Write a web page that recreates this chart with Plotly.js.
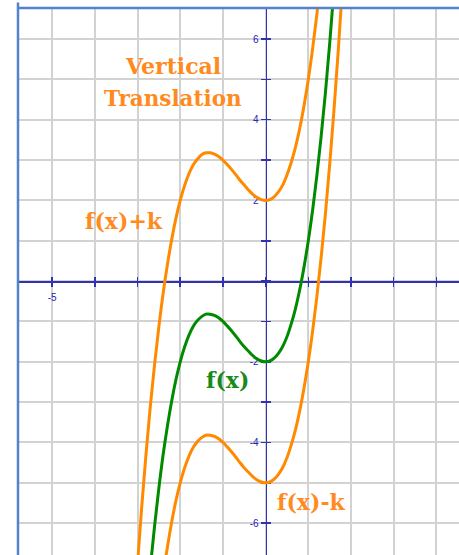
<!DOCTYPE html>
<html><head><meta charset="utf-8">
<script src="https://cdn.plot.ly/plotly-3.0.1.min.js"></script>
<style>html,body{margin:0;padding:0;background:#fff}#chart{width:459px;height:555px}</style>
</head><body><div id="chart"></div>
<script>
const xs = [-3.1,-3.0,-2.9,-2.8,-2.7,-2.6,-2.5,-2.4,-2.3,-2.2,-2.1,-2.0,-1.9,-1.8,-1.7,-1.6,-1.5,-1.4,-1.3,-1.2,-1.1,-1.0,-0.9,-0.8,-0.7,-0.6,-0.5,-0.4,-0.3,-0.2,-0.1,0,0.1,0.2,0.3,0.4,0.5,0.6,0.7,0.8,0.9,1.0,1.1,1.2,1.3,1.4,1.5,1.6,1.7,1.8,1.9];
const fx = [-12.57,-11.00,-9.57,-8.27,-7.10,-6.06,-5.13,-4.30,-3.59,-2.97,-2.44,-2.00,-1.64,-1.35,-1.13,-0.98,-0.88,-0.82,-0.82,-0.85,-0.91,-1.00,-1.11,-1.23,-1.36,-1.50,-1.63,-1.74,-1.85,-1.93,-1.98,-2.00,-1.98,-1.91,-1.79,-1.62,-1.38,-1.06,-0.68,-0.21,0.35,1.00,1.75,2.61,3.58,4.66,5.88,7.22,8.69,10.31,12.08];
const fxPlusK = [-8.57,-7.00,-5.57,-4.27,-3.10,-2.06,-1.13,-0.30,0.41,1.03,1.56,2.00,2.36,2.65,2.87,3.02,3.13,3.18,3.18,3.15,3.09,3.00,2.89,2.77,2.64,2.50,2.38,2.26,2.15,2.07,2.02,2.00,2.02,2.09,2.21,2.38,2.63,2.94,3.32,3.79,4.35,5.00,5.75,6.61,7.58,8.66,9.88,11.22,12.69,14.31,16.08];
const fxMinusK = [-15.57,-14.00,-12.57,-11.27,-10.10,-9.06,-8.13,-7.30,-6.59,-5.97,-5.44,-5.00,-4.64,-4.35,-4.13,-3.98,-3.88,-3.82,-3.82,-3.85,-3.91,-4.00,-4.11,-4.23,-4.36,-4.50,-4.63,-4.74,-4.85,-4.93,-4.98,-5.00,-4.98,-4.91,-4.79,-4.62,-4.38,-4.06,-3.68,-3.21,-2.65,-2.00,-1.25,-0.39,0.58,1.66,2.88,4.22,5.69,7.31,9.08];
const xTickVals = [-5,-4,-3,-2,-1,0,1,2,3,4];
const xTickText = ['-5','','','','','','','','',''];
const yTickVals = [-6,-5,-4,-3,-2,-1,0,1,2,3,4,5,6];
const yTickText = ['-6','','-4','','-2','','','','2','','4','','6'];

const xRange = [-5.80, 4.53];
const yRange = [-6.79, 6.77];
const orange = '#ff8a00', green = '#008a00';
const navy = '#3232b0';
const lblFont = {family:'Liberation Sans, Arial, sans-serif', size:10, color:'#2424b8'};
const xPos = (0 - yRange[0])/(yRange[1]-yRange[0]);
const yPos = (0 - xRange[0])/(xRange[1]-xRange[0]);

const traces = [
  {x:xs, y:fxPlusK, mode:'lines', line:{color:orange, width:3, shape:'spline'}, hoverinfo:'skip', showlegend:false},
  {x:xs, y:fxMinusK, mode:'lines', line:{color:orange, width:3, shape:'spline'}, hoverinfo:'skip', showlegend:false},
  {x:xs, y:fx, mode:'lines', line:{color:green, width:3, shape:'spline'}, hoverinfo:'skip', showlegend:false},
  {x:[0], y:[0], xaxis:'x2', yaxis:'y2', mode:'markers', marker:{opacity:0}, hoverinfo:'skip', showlegend:false}
];

const common = {zeroline:false, fixedrange:true, layer:'below traces'};
const layout = {
  width:459, height:555,
  margin:{l:18, r:0, t:8, b:0},
  paper_bgcolor:'#fff', plot_bgcolor:'#fff',
  xaxis:Object.assign({}, common, {range:xRange, tickmode:'array', tickvals:xTickVals, ticktext:xTickText,
    showgrid:true, gridcolor:'#d2d2d2', gridwidth:2,
    showline:true, linecolor:navy, linewidth:1.5,
    anchor:'free', position:xPos, side:'bottom',
    ticks:'outside', ticklen:4, tickwidth:1.5, tickcolor:navy, tickfont:lblFont, ticklabelstandoff:2}),
  xaxis2:Object.assign({}, common, {range:xRange, overlaying:'x', tickmode:'array', tickvals:xTickVals,
    showgrid:false, showline:false, showticklabels:false,
    anchor:'free', position:xPos, side:'bottom',
    ticks:'inside', ticklen:4, tickwidth:1.5, tickcolor:navy}),
  yaxis:Object.assign({}, common, {range:yRange, tickmode:'array', tickvals:yTickVals, ticktext:yTickText,
    showgrid:true, gridcolor:'#d2d2d2', gridwidth:2,
    showline:true, linecolor:navy, linewidth:1.5,
    anchor:'free', position:yPos, side:'left',
    ticks:'outside', ticklen:5, tickwidth:1.5, tickcolor:navy, tickfont:lblFont}),
  yaxis2:Object.assign({}, common, {range:yRange, overlaying:'y', tickmode:'array', tickvals:yTickVals,
    showgrid:false, showline:false, showticklabels:false,
    anchor:'free', position:yPos, side:'left',
    ticks:'inside', ticklen:4, tickwidth:1.5, tickcolor:navy}),
  shapes:[
    {type:'line', xref:'paper', yref:'paper', x0:0, x1:0, y0:0, y1:1.01, line:{color:'#5283cc', width:2.5}},
    {type:'line', xref:'paper', yref:'paper', x0:0, x1:1.01, y0:1, y1:1, line:{color:'#5283cc', width:2.5}}
  ],
  annotations:[
    {text:'Vertical', x:-2.18, y:5.32, xref:'x', yref:'y', showarrow:false, font:{family:'DejaVu Serif', size:22, color:'#ff8a1e', weight:'bold'}},
    {text:'Translation', x:-2.16, y:4.53, xref:'x', yref:'y', showarrow:false, font:{family:'DejaVu Serif', size:21.5, color:'#ff8a1e', weight:'bold'}},
    {text:'f(x)+k', x:-3.32, y:1.50, xref:'x', yref:'y', showarrow:false, font:{family:'DejaVu Serif', size:22, color:'#ff8a1e', weight:'bold'}},
    {text:'f(x)', x:-0.895, y:-2.46, xref:'x', yref:'y', showarrow:false, font:{family:'DejaVu Serif', size:22, color:'#178a17', weight:'bold'}},
    {text:'f(x)-k', x:1.08, y:-5.47, xref:'x', yref:'y', showarrow:false, font:{family:'DejaVu Serif', size:22, color:'#ff8a1e', weight:'bold'}}
  ]
};
Plotly.newPlot('chart', traces, layout, {staticPlot:true, displayModeBar:false});
</script></body></html>
